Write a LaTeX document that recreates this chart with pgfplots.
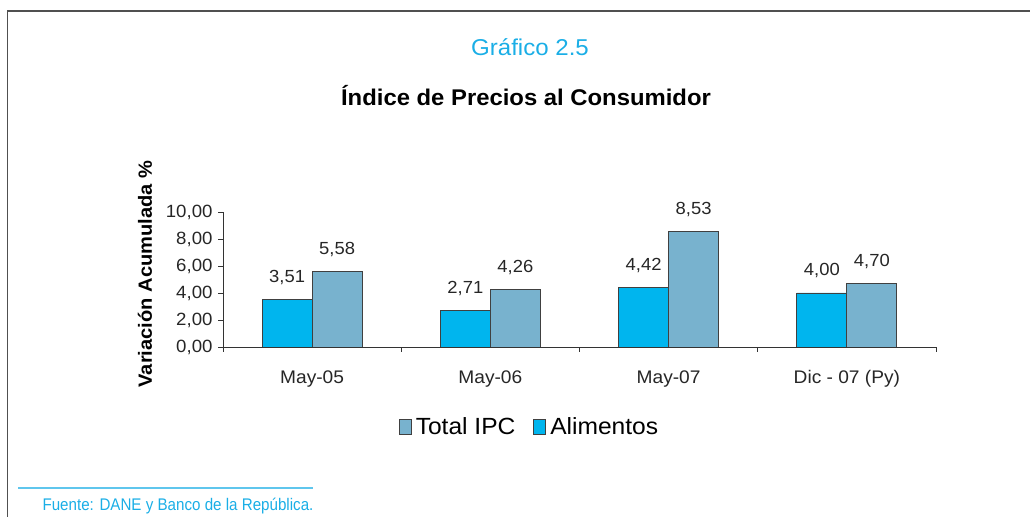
\documentclass[border=0pt]{standalone}
\usepackage{pgfplots}
\pgfplotsset{compat=1.18}
\usepackage{fontspec}
\setmainfont{Liberation Sans}[FakeStretch=1.05]
\newfontfamily\narrowfont{Liberation Sans}[FakeStretch=0.9]

\definecolor{cyanbar}{HTML}{00B5EE}
\definecolor{graybar}{HTML}{78B2CE}
\definecolor{titlecyan}{HTML}{1AAEE6}
\definecolor{framegray}{HTML}{505050}

\begin{document}
\begin{tikzpicture}
\useasboundingbox (0bp,0bp) rectangle (1030bp,517bp);
% frame
\draw[framegray,line width=1.4bp] (7.5bp,0bp) -- (7.5bp,506bp) -- (1031bp,506bp);
% titles
\node[titlecyan,font=\fontsize{23}{26}\selectfont] at (530bp,470bp) {Gráfico 2.5};
\node[font=\fontsize{22.8}{26}\selectfont\bfseries] at (526bp,421bp) {Índice de Precios al Consumidor};
\node[rotate=90,font=\fontsize{19.2}{22}\selectfont\bfseries] at (145bp,243bp) {Variación Acumulada \%};
% source
\draw[titlecyan!70,line width=1.2bp] (18bp,29bp) -- (313bp,29bp);
\node[titlecyan,anchor=base west,font=\narrowfont\fontsize{16.9}{19}\selectfont] at (39bp,7bp) {Fuente: DANE y Banco de la República.};

\begin{axis}[
    at={(223bp,170bp)}, anchor=south west,
    scale only axis,
    width=713bp, height=135bp,
    xmin=-0.5, xmax=3.5,
    ymin=0, ymax=10,
    axis lines*=left,
    axis line style={black!80,line width=0.8bp},
    ytick={0,2,4,6,8,10},
    /pgf/number format/fixed,
    /pgf/number format/fixed zerofill,
    /pgf/number format/precision=2,
    /pgf/number format/use comma,
    /pgf/number format/assume math mode=true,
    ticklabel style={font=\fontsize{17.8}{20}\selectfont, text=black!85},
    yticklabel style={xshift=-2bp},
    xtick={0,1,2,3},
    xticklabels={May-05,May-06,May-07,Dic - 07 (Py)},
    minor xtick={-0.5,0.5,1.5,2.5,3.5},
    tick align=outside,
    major tick length=5bp,
    minor tick length=5bp,
    major x tick style={draw=none},
    minor x tick style={black!80, line width=0.8bp},
    y tick style={black!80, line width=0.8bp},
    xticklabel style={yshift=-15bp, font=\fontsize{18.3}{20}\selectfont},
    ybar=0pt,
    bar width=50bp,
    nodes near coords,
    every node near coord/.append style={font=\fontsize{17.6}{20}\selectfont, text=black!85, anchor=center, yshift=22bp},
    legend columns=2,
    legend style={draw=none, at={(0.43,-0.593)}, anchor=center, font=\fontsize{23.5}{26}\selectfont,
        /tikz/every odd column/.append style={column sep=2bp},
        /tikz/every even column/.append style={column sep=16bp}},
    legend image code/.code={\draw[#1] (0bp,-7.5bp) rectangle (12bp,7.5bp);},
]
\addplot[fill=graybar, draw=black!75, line width=0.8bp, bar shift=25bp] coordinates {(0,5.58) (1,4.26) (2,8.53) (3,4.70)};
\addlegendentry{Total IPC}
\addplot[fill=cyanbar, draw=black!75, line width=0.8bp, bar shift=-25bp] coordinates {(0,3.51) (1,2.71) (2,4.42) (3,4.00)};
\addlegendentry{Alimentos}
\end{axis}
\end{tikzpicture}
\end{document}
